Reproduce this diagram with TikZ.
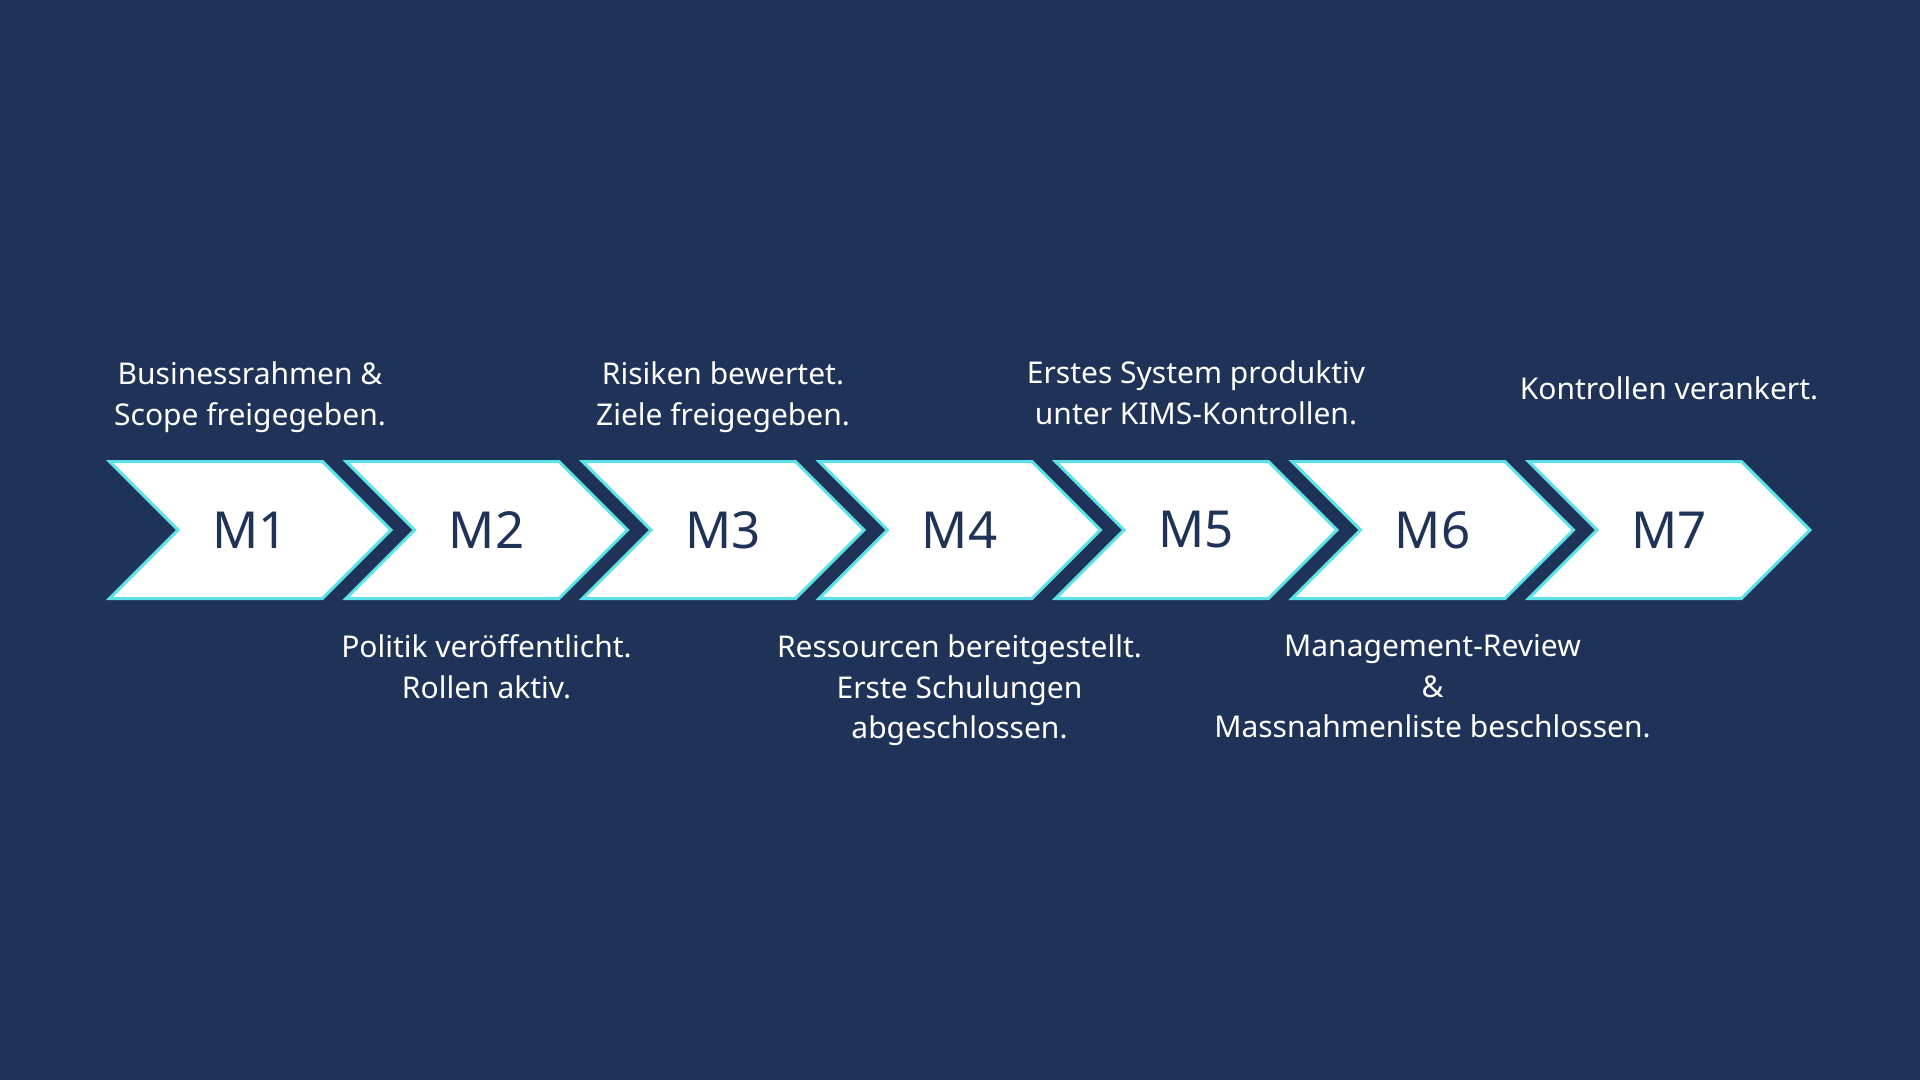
\documentclass[tikz,border=0pt]{standalone}
\usepackage{fontspec}
\setmainfont{Noto Sans}
\usetikzlibrary{calc,positioning}

\definecolor{navy}{HTML}{1F3257}
\definecolor{cyanline}{HTML}{5CE1E6}

\begin{document}
\begin{tikzpicture}[
    x=1pt, y=-1pt,
    chevron/.style={draw=cyanline, line width=3pt, fill=white, line join=miter},
    milestone/.style={font=\fontsize{51}{60}\selectfont, text=navy, inner sep=0pt, minimum height=140pt},
    toplabel/.style={font=\fontsize{30}{40.5}\selectfont, text=white, align=center},
    botlabel/.style={toplabel, anchor=north}
  ]

  % Background
  \fill[navy] (0,0) rectangle (1920,1080);
  \useasboundingbox (0,0) rectangle (1920,1080);

  % Chevrons
  \foreach \i in {1,...,7} {
    \pgfmathsetmacro{\xl}{109.5+(\i-1)*236.5}
    \draw[chevron] (\xl,461.5) -- ++(213,0) -- ++(68.5,68.5) -- ++(-68.5,68.5) -- ++(-213,0) -- ++(68.5,-68.5) -- cycle;
    \node[milestone] (m\i) at (\xl+140.5,530) {M\i};
  }

  % Labels above
  \node[toplabel] (t1) at ($(m1)+(0,-133)$) {Businessrahmen \&\\Scope freigegeben.};
  \node[toplabel] (t3) at ($(m3)+(0,-133)$) {Risiken bewertet.\\Ziele freigegeben.};
  \node[toplabel] (t5) at ($(m5)+(0,-137)$) {Erstes System produktiv\\unter KIMS-Kontrollen.};
  \node[toplabel] (t7) at ($(m7)+(0,-142)$) {Kontrollen verankert.};

  % Labels below
  \node[botlabel, below=31pt of m2] (b2) {Politik veröffentlicht.\\Rollen aktiv.};
  \node[botlabel, below=31pt of m4] (b4) {Ressourcen bereitgestellt.\\Erste Schulungen\\abgeschlossen.};
  \node[botlabel, below=31pt of m6] (b6) {Management-Review\\\&\\Massnahmenliste beschlossen.};

\end{tikzpicture}
\end{document}
